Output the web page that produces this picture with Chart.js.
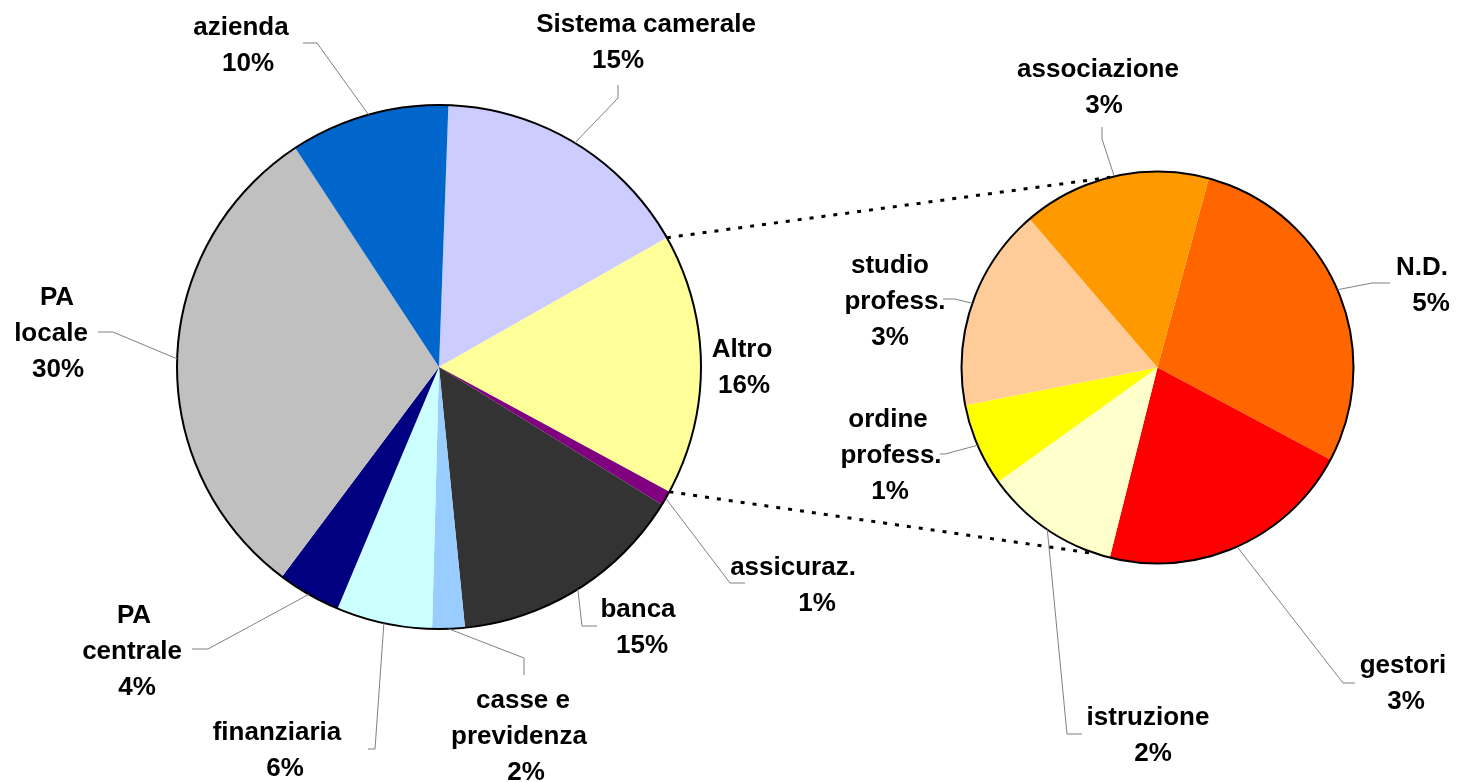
<!DOCTYPE html>
<html>
<head>
<meta charset="utf-8">
<title>Pie of pie</title>
<script src="https://cdn.jsdelivr.net/npm/chart.js@4.4.0/dist/chart.umd.min.js"></script>
<style>
    html, body { margin: 0; padding: 0; background: #ffffff; }
    #wrap { position: relative; width: 1458px; height: 782px; }
    #wrap canvas { position: absolute; left: 0; top: 0; }
</style>
</head>
<body>
<div id="wrap">
    <canvas id="mainPie" width="1458" height="782"></canvas>
    <canvas id="subPie" width="1458" height="782"></canvas>
</div>
<script>
// Main pie data (share of total, %)
const mainCategories = ['Sistema camerale', 'Altro', 'assicuraz.', 'banca', 'casse e\nprevidenza', 'finanziaria', 'PA\ncentrale', 'PA\nlocale', 'azienda'];
const mainValues = [16.2, 16.1, 0.9, 14.6, 2.0, 5.9, 3.9, 30.5, 9.8];
const mainPercentLabels = ['15%', '16%', '1%', '15%', '2%', '6%', '4%', '30%', '10%'];
const mainColors = ['#CCCCFF', '#FFFF99', '#800080', '#333333', '#99CCFF', '#CCFFFF', '#000080', '#C0C0C0', '#0066CC'];

// Second pie data (breakdown of "Altro", % of total)
const subCategories = ['N.D.', 'gestori', 'istruzione', 'ordine\nprofess.', 'studio\nprofess.', 'associazione'];
const subValues = [4.6, 3.4, 1.8, 1.1, 2.7, 2.5];
const subPercentLabels = ['5%', '3%', '2%', '1%', '3%', '3%'];
const subColors = ['#FF6600', '#FF0000', '#FFFFCC', '#FFFF00', '#FFCC99', '#FF9900'];

// Label placement: centre x of each text line, first baseline, leader elbow + end
const mainLabelLayout = [
    { xs: [646, 618], y: 32, leader: [[618, 98], [618, 85]] },
    { xs: [742, 744], y: 357, leader: null },
    { xs: [793, 817], y: 575, leader: [[730, 583], [745, 583]] },
    { xs: [638, 642], y: 617, leader: [[582, 626], [597, 626]] },
    { xs: [523, 519, 526], y: 708, leader: [[524, 658], [524, 675]] },
    { xs: [277, 285], y: 740, leader: [[375, 749], [368, 749]] },
    { xs: [134, 132, 137], y: 623, leader: [[208, 649], [192, 649]] },
    { xs: [57, 51, 58], y: 305, leader: [[113, 332], [98, 332]] },
    { xs: [241, 248], y: 35, leader: [[317, 43], [303, 43]] }
];
const subLabelLayout = [
    { xs: [1422, 1431], y: 275, leader: [[1372, 283], [1390, 283]] },
    { xs: [1403, 1406], y: 673, leader: [[1343, 683], [1355, 683]] },
    { xs: [1148, 1153], y: 725, leader: [[1067, 734], [1082, 734]] },
    { xs: [888, 891, 890], y: 427, leader: [[945, 454], [940, 454]] },
    { xs: [890, 895, 890], y: 273, leader: [[955, 299], [943, 299]] },
    { xs: [1098, 1104], y: 77, leader: [[1102, 139], [1102, 127]] }
];

const LABEL_FONT = 'bold 26px "Liberation Sans", Arial, sans-serif';
const LINE_GAP = 36;

// Black outline round each pie
const outerRing = {
    id: 'outerRing',
    afterDatasetsDraw(chart) {
        const arc = chart.getDatasetMeta(0).data[0];
        const ctx = chart.ctx;
        ctx.save();
        ctx.beginPath();
        ctx.arc(arc.x, arc.y, arc.outerRadius, 0, Math.PI * 2);
        ctx.lineWidth = 2;
        ctx.strokeStyle = '#000000';
        ctx.stroke();
        ctx.restore();
    }
};

// Outside labels with grey leader lines
const sliceLabels = {
    id: 'sliceLabels',
    afterDraw(chart, args, opts) {
        const ctx = chart.ctx;
        const arcs = chart.getDatasetMeta(0).data;
        const names = chart.data.labels;
        ctx.save();
        arcs.forEach((arc, i) => {
            const lay = opts.layout[i];
            if (!lay) return;
            if (lay.leader) {
                const mid = (arc.startAngle + arc.endAngle) / 2;
                ctx.beginPath();
                ctx.moveTo(arc.x + arc.outerRadius * Math.cos(mid), arc.y + arc.outerRadius * Math.sin(mid));
                lay.leader.forEach(p => ctx.lineTo(p[0], p[1]));
                ctx.lineWidth = 1;
                ctx.strokeStyle = '#808080';
                ctx.stroke();
            }
            const lines = names[i].split('\n').concat(opts.percents[i]);
            ctx.font = LABEL_FONT;
            ctx.fillStyle = '#000000';
            ctx.textAlign = 'center';
            ctx.textBaseline = 'alphabetic';
            lines.forEach((t, k) => ctx.fillText(t, lay.xs[k], lay.y + k * LINE_GAP));
        });
        ctx.restore();
    }
};

// Dotted lines from the "Altro" slice to the second pie
const connectors = {
    id: 'connectors',
    afterDraw(chart, args, opts) {
        const main = Chart.getChart('mainPie');
        if (!main) return;
        const other = main.getDatasetMeta(0).data[opts.otherIndex];
        const sub = chart.getDatasetMeta(0).data[0];
        const toRad = deg => (deg - 90) * Math.PI / 180;
        const pairs = [
            [other.startAngle, toRad(opts.topAngle)],
            [other.endAngle, toRad(opts.bottomAngle)]
        ];
        const ctx = chart.ctx;
        ctx.save();
        ctx.setLineDash([4, 8]);
        ctx.lineWidth = 3;
        ctx.strokeStyle = '#000000';
        pairs.forEach(([a, b]) => {
            ctx.beginPath();
            ctx.moveTo(other.x + other.outerRadius * Math.cos(a), other.y + other.outerRadius * Math.sin(a));
            ctx.lineTo(sub.x + sub.outerRadius * Math.cos(b), sub.y + sub.outerRadius * Math.sin(b));
            ctx.stroke();
        });
        ctx.restore();
    }
};

// Function to build one pie
function makePie(canvasId, labels, values, colors, percents, layout, radius, rotation, padding, extra) {
    const ctx = document.getElementById(canvasId).getContext('2d');
    return new Chart(ctx, {
        type: 'pie',
        data: {
            labels: labels,
            datasets: [{
                data: values,
                backgroundColor: colors,
                borderWidth: 0,
                radius: radius,
                rotation: rotation
            }]
        },
        options: {
            responsive: false,
            animation: false,
            events: [],
            layout: { padding: padding },
            plugins: {
                legend: { display: false },
                tooltip: { enabled: false },
                sliceLabels: { layout: layout, percents: percents },
                connectors: extra || {}
            }
        },
        plugins: extra ? [outerRing, sliceLabels, connectors] : [outerRing, sliceLabels]
    });
}

document.addEventListener('DOMContentLoaded', function() {
    makePie('mainPie', mainCategories, mainValues, mainColors, mainPercentLabels, mainLabelLayout,
        262, 2.05, { left: 0, right: 580, top: 0, bottom: 48 });
    makePie('subPie', subCategories, subValues, subColors, subPercentLabels, subLabelLayout,
        196, 15.2, { left: 857, right: 0, top: 1, bottom: 48 },
        { otherIndex: 1, topAngle: 346, bottomAngle: 198 });
});
</script>
</body>
</html>
